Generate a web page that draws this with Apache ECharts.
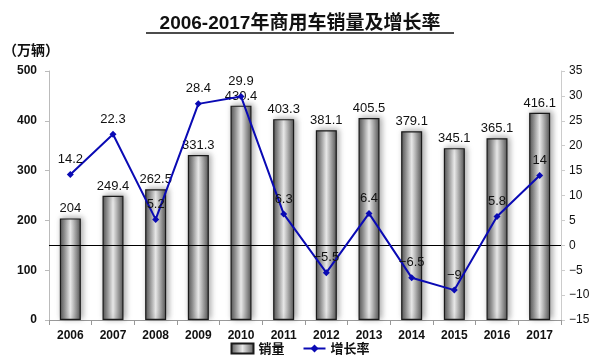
<!DOCTYPE html>
<html><head><meta charset="utf-8">
<script src="https://cdn.jsdelivr.net/npm/echarts@6/dist/echarts.min.js"></script>
<style>html,body{margin:0;padding:0;background:#fff}#c{width:600px;height:362px}</style>
</head><body><div id="c"></div>
<script>
var years = ['2006','2007','2008','2009','2010','2011','2012','2013','2014','2015','2016','2017'];
var sales = [204, 249.4, 262.5, 331.3, 430.4, 403.3, 381.1, 405.5, 379.1, 345.1, 365.1, 416.1];
var growth = [14.2, 22.3, 5.2, 28.4, 29.9, 6.3, -5.5, 6.4, -6.5, -9, 5.8, 14];
var leftTicks = [0, 100, 200, 300, 400, 500];
var rightTicks = [-15, -10, -5, 0, 5, 10, 15, 20, 25, 30, 35];

var chart = echarts.init(document.getElementById('c'));
var labelFont = {fontFamily: 'Liberation Sans', fontSize: 13, color: '#111'};
function fmt(v){ return String(v).replace('-', '−'); }
chart.setOption({
  animation: false,
  title: {
    text: '2006-2017年商用车销量及增长率', left: 'center', top: 9,
    textStyle: {fontFamily: 'Liberation Sans, Noto Sans CJK SC', fontWeight: 'bold', fontSize: 19, color: '#111'}
  },
  graphic: [{type: 'line', shape: {x1: 146, y1: 33, x2: 454, y2: 33}, style: {stroke: '#111', lineWidth: 1.5}}],
  legend: {
    bottom: 2, left: 'center', itemGap: 18, itemWidth: 22, itemHeight: 10,
    textStyle: {fontFamily: 'Noto Sans CJK SC', fontSize: 13, fontWeight: 'bold', color: '#111'},
    data: [{name: '销量', icon: 'rect'}, {name: '增长率'}]
  },
  grid: {left: 46, right: 39, top: 71, bottom: 42},
  xAxis: {
    type: 'category', data: years,
    axisLine: {lineStyle: {color: '#999'}},
    axisTick: {show: true, interval: 0, length: 5, lineStyle: {color: '#999'}},
    axisLabel: {interval: 0, fontFamily: 'Liberation Sans', fontWeight: 'bold', fontSize: 12, color: '#111', margin: 10}
  },
  yAxis: [{
    type: 'value', min: leftTicks[0], max: leftTicks[leftTicks.length-1], interval: 100,
    name: '（万辆）', nameLocation: 'end', nameGap: 14,
    nameTextStyle: {fontFamily: 'Noto Sans CJK SC', fontWeight: 'bold', fontSize: 14, color: '#111', align: 'right', padding: [0, -10, 0, 0]},
    axisLine: {show: true, lineStyle: {color: '#bbb'}},
    axisTick: {show: true, length: 4, lineStyle: {color: '#bbb'}},
    splitLine: {show: false},
    axisLabel: {fontFamily: 'Liberation Sans', fontWeight: 'bold', fontSize: 12, color: '#111', margin: 12}
  }, {
    type: 'value', min: rightTicks[0], max: rightTicks[rightTicks.length-1], interval: 5,
    axisLine: {show: true, lineStyle: {color: '#ccc'}},
    axisTick: {show: true, length: 4, lineStyle: {color: '#ccc'}},
    splitLine: {show: false},
    axisLabel: {fontFamily: 'Liberation Sans', fontSize: 12, color: '#111', margin: 8,
      formatter: function(v){ return String(v).replace('-', '−'); }}
  }],
  series: [{
    name: '销量', type: 'bar', data: sales, barWidth: 21, yAxisIndex: 0,
    itemStyle: {
      color: {type: 'linear', x: 0, y: 0, x2: 1, y2: 0, colorStops: [
        {offset: 0, color: '#555'}, {offset: 0.5, color: '#e8e8e8'}, {offset: 1, color: '#555'}]},
      borderColor: '#1a1a1a', borderWidth: 1.2,
      shadowColor: 'rgba(0,0,0,0.35)', shadowBlur: 6, shadowOffsetX: 2, shadowOffsetY: -1
    },
    label: {show: true, position: 'top', distance: 3, formatter: function(p){ return fmt(p.value); }, ...labelFont}
  }, {
    name: '增长率', type: 'line', data: growth, yAxisIndex: 1, z: 5,
    symbol: 'diamond', symbolSize: 7,
    lineStyle: {color: '#0a0ab4', width: 2},
    itemStyle: {color: '#0a0ab4'},
    label: {show: true, position: 'top', distance: 5, formatter: function(p){ return fmt(p.value); }, ...labelFont},
    markLine: {
      silent: true, symbol: 'none', label: {show: false},
      lineStyle: {color: '#000', width: 1.2, type: 'solid'},
      data: [{yAxis: 0}]
    }
  }]
});
</script></body></html>
